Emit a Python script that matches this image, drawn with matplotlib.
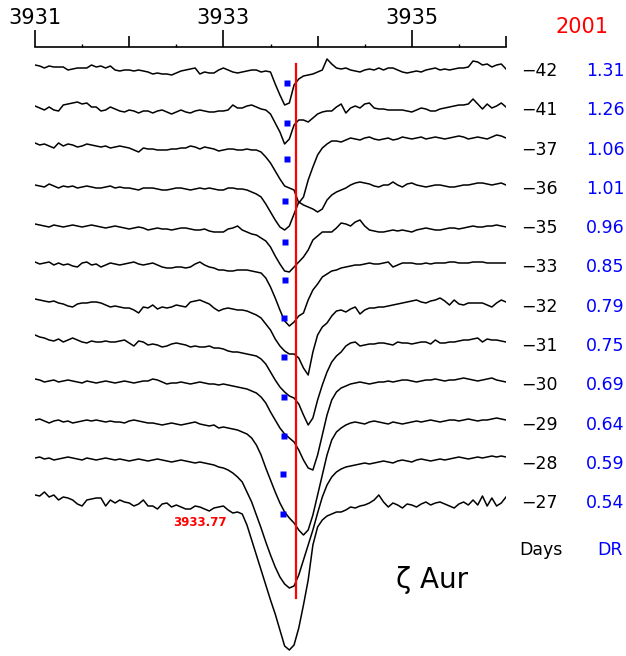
import matplotlib
matplotlib.use('Agg')
import matplotlib.pyplot as plt
import numpy as np

# wavelength grid (Angstrom)
wl = np.round(np.arange(3931.0, 3936.0001, 0.05), 2)

days = [-42, -41, -37, -36, -35, -33, -32, -31, -30, -29, -28, -27]
dr = ['1.31', '1.26', '1.06', '1.01', '0.96', '0.85', '0.79', '0.75', '0.69', '0.64', '0.59', '0.54']
offsets = [0.0, -0.20, -0.38, -0.59, -0.795, -0.985, -1.175, -1.37, -1.57, -1.765, -1.955, -2.155]
marker_wl = [3933.675, 3933.675, 3933.675, 3933.654, 3933.654, 3933.654,
             3933.643, 3933.643, 3933.643, 3933.643, 3933.633, 3933.633]
marker_level = 0.918
line_wl = 3933.77

# relative flux in percent of continuum
f42 = [101, 100.5, 99.5, 100.5, 100, 100, 100, 98.5, 99, 99.5,
       99.5, 99.5, 101, 100, 100.5, 99.5, 100.5, 98.5, 98, 98.5,
       98.5, 98, 98.5, 98, 97.5, 96.5, 97, 96.5, 96.5, 96,
       97, 98, 98.5, 99, 99.5, 96.5, 97.5, 97, 97, 98.5,
       99.5, 98.5, 97.5, 97, 97.5, 98, 98.5, 98.5, 97.5, 98,
       97.5, 91.5, 86, 81, 82, 91, 94, 95.5, 96, 96.5,
       97.5, 98.5, 104, 101.5, 99.5, 99, 99.5, 98.5, 98, 97.5,
       98.5, 99, 98.5, 99.5, 98.5, 99.5, 99.5, 98.5, 97.5, 97,
       97.5, 98, 97.5, 98.5, 99, 99.5, 98.5, 99, 98.5, 99,
       99.5, 99.5, 100, 103, 102.5, 101, 101.5, 100, 101, 101.5,
       99]
f41 = [100.5, 99.5, 98.5, 100, 98.5, 98, 101, 101.5, 102, 102.5,
       101.5, 102, 100, 100, 98, 98.5, 100, 99, 98, 97.5,
       98.5, 98, 97, 98, 98, 97, 98, 98.5, 97.5, 96.5,
       97.5, 98.5, 97.5, 97, 98, 98.5, 98, 97.5, 97.5, 98,
       98, 98.5, 101, 99.5, 99.5, 100.5, 101, 100, 99, 98.5,
       96.5, 92, 87.5, 81.5, 84, 91, 93.5, 93.5, 92.5, 94.5,
       96.5, 97.5, 98, 98, 100, 101.5, 97, 99.5, 100.5, 99.5,
       101.5, 102, 99.5, 99, 99, 98.5, 98.5, 98.5, 98.5, 98,
       97.5, 98.5, 99.5, 99, 98, 98, 99, 99.5, 100, 100.5,
       101, 101, 101.5, 104, 101.5, 99, 101.5, 99.5, 100.5, 102,
       100]
f37 = [100, 99, 99.5, 98.5, 97.5, 100, 98.5, 99.5, 99, 98, 98.5, 99.5, 99, 98.5, 98,
       98.5, 97.5, 98, 98.5, 98, 97.5, 96.5, 95.5, 97.5, 97, 97, 96.5, 96.5, 96.5, 97,
       97, 97.5, 97.5, 98.5, 98, 97, 98, 97.5, 97, 96, 96.5, 97, 97, 96.5,
       96.5, 97, 96.5, 96.5, 95.5, 93, 90, 86, 82, 78.5, 77.5, 76.5, 70, 73, 81.5,
       88, 94, 97.5, 99.5, 101, 101, 100.5, 101.5,
       102.5, 102, 101.5, 102.5, 103, 102, 101.5, 102, 102.5, 101.5, 102, 103, 102.5,
       102, 102.5, 103, 102, 102.5, 103, 102.5, 102, 102.5, 103, 103.5, 103, 102,
       102.5, 103, 102.5, 102, 103, 104, 103.5, 102.5]
f36 = [100, 99.5, 99, 100.5, 99.5, 98.5, 99.5, 99, 99.5, 98.5, 99, 99.5, 99, 98.5, 98.5,
       99, 99.5, 98.5, 99, 98.5, 98.5, 98, 97.5, 98.5, 98.5, 98.5, 98, 97.5, 97.5, 98,
       98.5, 98.5, 98, 97.5, 98, 98.5, 98, 98.5, 98, 97.5, 97.5, 98.5, 98.5, 98,
       98, 97.5, 96.5, 95.5, 94, 90.5, 86.5, 82.5, 79, 77.5, 79.5, 85.5, 91.5, 90, 89,
       88, 86.5, 88, 92.5, 95, 96.5, 97.5, 98.5,
       100, 101, 101.5, 101, 100.5, 99.5, 99, 100, 100, 101.5, 100, 99, 100.5, 101,
       100, 99.5, 99, 99.5, 100, 100, 99.5, 99, 99, 99.5, 100, 100, 100.5, 101, 101,
       100.5, 100, 100.5, 101, 100]
f35 = [101, 100.5, 100, 99.5, 100.5, 100, 99.5, 100, 100.5, 100, 99.5, 100, 100.5, 100, 99.5,
       99, 99.5, 100, 99.5, 99, 98.5, 99, 99.5, 99, 98, 98.5, 99, 98.5, 98.5, 98,
       98.5, 99, 99, 98.5, 98, 98, 98.5, 97.5, 97, 97, 97, 98.5, 99, 100,
       98, 97, 96, 95.5, 94, 92.5, 89.5, 85, 81, 77.5, 77, 79.5, 82, 84.5, 88,
       93, 95, 97, 97, 97, 99, 101.5, 101,
       100, 102, 103, 100, 98, 97.5, 97, 97, 97.5, 98, 97.5, 98, 97.5, 97, 98, 98.5,
       99, 98.5, 98, 98, 98.5, 99, 99, 98.5, 99, 99.5, 100, 99.5, 99.5, 100, 100,
       100.5, 100, 99.5]
f33 = [101, 100, 100.5, 101, 99.5, 100.5, 99.5, 100, 99, 98.5, 100.5, 101, 99.5, 100, 98.5,
       99.5, 100.5, 100, 99.5, 100, 100.5, 101, 100, 99.5, 100, 100.5, 99.5, 98.5, 98, 98,
       98.5, 98.5, 98, 98.5, 100, 101, 99.5, 98.5, 98, 97, 97, 96.5, 96.5, 97,
       97, 97, 96.5, 96, 95.5, 93, 88.5, 83, 77, 71.5, 69, 71, 74, 75.5, 82,
       87, 90, 93.5, 95, 96.5, 97, 98, 98.5,
       99, 99.5, 99.5, 100, 100.5, 100, 100, 100.5, 101, 98.5, 99.5, 100.5, 100.5, 100.5,
       100, 100, 100.5, 100, 100.5, 100.5, 100.5, 101, 101, 100.5, 100.5, 100.5, 101,
       101, 101, 100.5, 100.5, 100.5, 100.5, 100.5]
f32 = [101.5, 101, 100.5, 100, 100.5, 99.5, 99, 98, 97.5, 99, 99.5, 99.5, 100, 100, 99.5,
       98.5, 97.5, 98, 97.5, 97, 97, 96, 94.5, 97.5, 97, 98.5, 96.5, 97.5, 97, 97.5,
       98.5, 98, 97.5, 100, 100.5, 101, 100, 99, 97, 95.5, 96.5, 97, 96.5, 96,
       96, 95.5, 94.5, 93.5, 92, 89, 86, 81.5, 78, 75.5, 74, 74, 72, 67, 63.5,
       75, 83.5, 87.5, 89.5, 93, 95.5, 96, 95,
       96.5, 97.5, 94, 96, 97, 97, 97.5, 97.5, 98, 98.5, 99, 99.5, 100, 100.5, 101, 100,
       99.5, 100.5, 101, 102, 100.5, 98.5, 101, 99, 98.5, 99.5, 99.5, 99.5, 99.5, 98.5,
       97.5, 99.5, 101, 100]
f31 = [103, 102, 101.5, 100.5, 100, 101, 99.5, 100.5, 101.5, 100.5, 99.5, 99, 100, 99.5, 99.5,
       100, 99.5, 99.5, 100, 100.5, 99, 97.5, 100, 99.5, 98, 98.5, 98, 97, 97.5, 98.5,
       99, 98.5, 98, 97, 97.5, 97, 97, 97.5, 96.5, 96.5, 96, 95, 94.5, 94.5,
       94, 93.5, 93, 92.5, 91, 88.5, 84.5, 80.5, 77, 74.5, 72.5, 71.5, 68.5, 63, 58,
       61.5, 70.5, 78, 84.5, 89.5, 92.5, 94.5, 97.5,
       99, 99.5, 97.5, 98, 98.5, 98.5, 99, 99, 98.5, 98, 99.5, 99, 99, 98.5, 99, 99.5,
       99.5, 98.5, 100.5, 99, 99, 99.5, 99.5, 100, 100.5, 100.5, 101, 101.5, 99.5, 101,
       100.5, 100.5, 100, 99.5]
f30 = [101, 100.5, 99.5, 100, 100.5, 99.5, 100, 100.5, 100, 99.5, 99, 100, 99.5, 99, 99.5,
       100, 99.5, 99, 99.5, 100, 99.5, 99, 99.5, 100, 100, 101, 100.5, 99.5, 98.5, 99,
       99, 99.5, 99, 98.5, 99, 99.5, 99, 98.5, 98.5, 98, 98.5, 98, 97.5, 97,
       96.5, 96, 95, 94, 92, 89, 84.5, 80.5, 76.5, 73.5, 71.5, 69.5, 65.5, 60.5, 56.5,
       55.5, 63, 73, 83, 90.5, 94.5, 96.5, 97.5,
       98.5, 99, 99.5, 99, 98.5, 99, 99.5, 99.5, 100, 99.5, 100, 100.5, 100.5, 100, 99.5,
       100, 100.5, 100.5, 101, 100.5, 100, 100.5, 100.5, 101, 101.5, 101, 100.5, 100,
       100.5, 101, 101.5, 100.5, 100, 99.5]
f29 = [100, 100.5, 99.5, 98.5, 99.5, 100, 99, 99.5, 98.5, 99, 99.5, 100, 99.5, 100, 99.5,
       99, 99.5, 99, 99, 98.5, 99.5, 100, 99.5, 99, 98.5, 98.5, 98, 97.5, 98, 98.5,
       98, 97.5, 98, 98.5, 99, 98, 97.5, 97, 97.5, 96, 96.5, 96, 95.5, 95,
       94, 93, 91, 87.5, 82.5, 76, 70, 64, 58.5, 54, 51, 48.5, 45, 42.5, 45,
       52.5, 62.5, 72.5, 82.5, 90, 94, 96, 97.5,
       98.5, 99, 98.5, 98, 99, 99.5, 99, 98.5, 98, 99, 98.5, 98, 98.5, 99, 99.5, 99,
       99.5, 100, 99.5, 99, 99.5, 100, 100, 99.5, 100, 100.5, 100, 99.5, 100, 100,
       100.5, 101, 100.5, 100]
f28 = [100, 100.5, 99.5, 100, 99, 99.5, 100, 100.5, 100, 99.5, 99, 100, 99.5, 99, 99.5,
       100, 99.5, 99, 99.5, 99, 98.5, 99, 99.5, 99, 98.5, 99, 99.5, 99, 98.5, 98,
       98.5, 99, 98.5, 98, 97.5, 98, 97.5, 97, 96.5, 95.5, 95, 94, 92.5, 90.5,
       88, 83, 78, 71.5, 65, 58, 51.5, 45.5, 40.5, 37, 35, 36, 41.5, 49, 56.5,
       64, 72.5, 80.5, 86.5, 90.5, 93, 94.5, 95.5,
       96, 96.5, 97, 97.5, 97, 97.5, 98, 98.5, 98, 97.5, 98.5, 99, 98.5, 98, 99, 99.5,
       99, 98.5, 99, 99.5, 99, 99.5, 100, 100.5, 100, 99.5, 100, 100.5, 100, 100.5,
       101, 100.5, 101, 100.5]
f27 = [101.5, 101, 103, 100.5, 101.5, 99, 100.5, 100, 99, 97, 96, 99, 99.5, 100, 100,
       96, 99, 97.5, 99, 98, 97.5, 96, 97, 99, 96, 96, 94.5, 97, 97.5, 95.5,
       96.5, 95.5, 94.5, 94.5, 96, 95.5, 94.5, 93.5, 95, 95.5, 96, 94, 92.5, 93,
       92, 86.5, 79, 71.5, 64, 56.5, 49, 42, 34, 26, 24, 26.5, 35, 46.5, 59,
       76.5, 85.5, 89, 91, 92, 93, 93, 94,
       95.5, 95, 96, 96.5, 97.5, 99, 101.5, 98, 95.5, 97.5, 96.5, 95, 97, 96.5, 95.5, 97,
       98, 96.5, 97.5, 98, 97, 96, 95, 97, 98, 96.5, 99, 96.5, 101, 96, 100, 96,
       97.5, 100.5]

spectra = [f42, f41, f37, f36, f35, f33, f32, f31, f30, f29, f28, f27]

W, H = 626, 656
fig = plt.figure(figsize=(W / 100, H / 100), dpi=100)
ax = fig.add_axes([35 / W, 0, (506 - 35) / W, 1 - 47 / H])
ax.set_xlim(3931, 3936)
ax.set_ylim(-1.945, 1.10)

for f, off in zip(spectra, offsets):
    ax.plot(wl, np.array(f) / 100.0 + off, color='black', lw=1.1)

ax.plot([line_wl, line_wl], [1.015, -1.655], color='red', lw=1.6)
ax.plot(marker_wl, np.array(offsets) + marker_level, 's', color='blue',
        ms=4.3, mec='none')
ax.text(3932.75, -1.28, '3933.77', color='red', fontsize=8.5,
        fontweight='bold', ha='center', va='center')

for s in ['left', 'right', 'bottom']:
    ax.spines[s].set_visible(False)
ax.spines['top'].set_linewidth(1.2)
ax.set_yticks([])
ax.xaxis.tick_top()
ax.set_xticks([3931, 3933, 3935])
ax.set_xticklabels(['3931', '3933', '3935'])
ax.set_xticks([3932, 3934, 3936], minor=True)
ax.tick_params(axis='x', which='major', direction='out', length=12, width=1.2,
               labelsize=15, pad=1.5)
ax.tick_params(axis='x', which='minor', direction='out', length=8, width=1.2)
sec = ax.secondary_xaxis('top')
sec.set_xticks([3931.5, 3932.5, 3933.5, 3934.5, 3935.5])
sec.set_xticklabels([])
sec.tick_params(direction='out', length=2.5, width=1.0)
sec.spines['top'].set_visible(False)

for i, (d, r) in enumerate(zip(days, dr)):
    py = 71 + 39.3 * i
    fig.text(521 / W, 1 - py / H, '\u2212' + str(abs(d)), fontsize=12.5,
             ha='left', va='center', color='black')
    fig.text(586 / W, 1 - py / H, r, fontsize=12.5, ha='left', va='center',
             color='blue')

fig.text(541 / W, 1 - 550 / H, 'Days', fontsize=12.5, ha='center', va='center')
fig.text(610 / W, 1 - 550 / H, 'DR', fontsize=12.5, ha='center', va='center',
         color='blue')
fig.text(582 / W, 1 - 27 / H, '2001', fontsize=15, ha='center', va='center',
         color='red')
fig.text(432 / W, 1 - 580 / H, '\u03b6 Aur', fontsize=20, ha='center',
         va='center')

fig.savefig('out.png', dpi=100)
